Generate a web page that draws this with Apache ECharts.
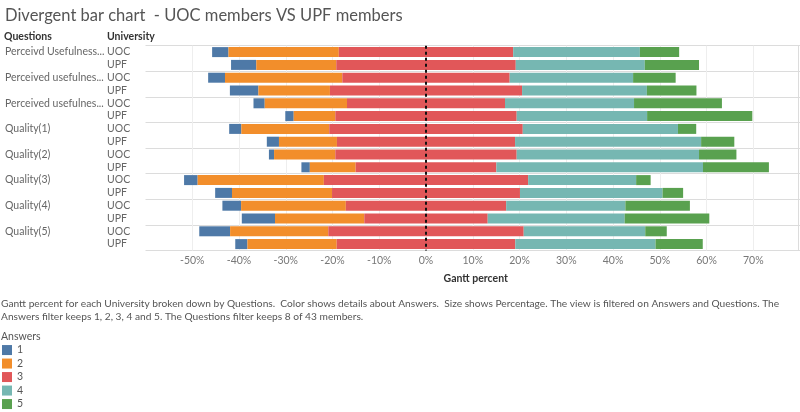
<!DOCTYPE html>
<html><head><meta charset="utf-8">
<script src="https://cdn.jsdelivr.net/npm/echarts@6/dist/echarts.min.js"></script>
<style>html,body{margin:0;padding:0;background:#fff}#c{width:800px;height:412px}</style>
</head><body><div id="c"></div>
<script>
const questions = ['Perceivd Usefulness...', 'Perceived usefulnes...', 'Perceived usefulnes...', 'Quality(1)', 'Quality(2)', 'Quality(3)', 'Quality(4)', 'Quality(5)'];
const universities = ['UOC', 'UPF'];
const answers = ['1', '2', '3', '4', '5'];
// share (%) of each answer, rows ordered question by question, UOC then UPF
const answer1 = [3.5, 5.4, 3.6, 6.1, 2.4, 1.8, 2.6, 2.6, 1.1, 1.8, 2.9, 3.6, 4.0, 7.1, 6.6, 2.6];
const answer2 = [23.6, 17.1, 25.1, 15.3, 17.6, 8.9, 18.8, 12.4, 13.1, 9.8, 27.0, 21.4, 22.4, 19.1, 21.0, 19.1];
const answer3 = [37.3, 38.4, 35.8, 41.1, 33.8, 38.8, 41.4, 38.1, 38.8, 30.1, 43.7, 40.2, 34.3, 26.4, 41.8, 38.2];
const answer4 = [27.1, 27.6, 26.4, 26.7, 27.6, 27.9, 33.2, 39.8, 39.0, 44.2, 23.1, 30.5, 25.5, 29.3, 26.0, 30.0];
const answer5 = [8.4, 11.6, 9.1, 10.6, 18.8, 22.5, 3.9, 7.1, 8.0, 14.1, 3.1, 4.4, 13.8, 18.1, 4.6, 10.1];
const xTicks = [-50, -40, -30, -20, -10, 0, 10, 20, 30, 40, 50, 60, 70];

const colors = ['#4e79a7', '#f28e2b', '#e15759', '#76b7b2', '#59a14f'];
const FONT = 'Lato, "Liberation Sans", Arial, sans-serif';
const rows = [];
questions.forEach((q, qi) => universities.forEach(u => rows.push(qi + '|' + u)));
const offset = answer1.map((v, i) => -(v + answer2[i] + answer3[i] / 2));
const values = [answer1, answer2, answer3, answer4, answer5];

const series = [{
  name: 'offset', type: 'bar', stack: 'g', stackStrategy: 'all', barWidth: 10,
  itemStyle: { color: 'rgba(0,0,0,0)' }, silent: true, data: offset,
  markLine: {
    silent: true, symbol: 'none', z: 1, label: { show: false },
    lineStyle: { color: '#eeeeee', type: 'solid', width: 1 },
    data: xTicks.map(v => ({ xAxis: v }))
  }
}];
answers.forEach((a, k) => {
  const s = {
    name: a, type: 'bar', stack: 'g', stackStrategy: 'all', barWidth: 10,
    itemStyle: { color: colors[k] }, data: values[k]
  };
  if (k === 4) {
    s.markLine = {
      silent: true, symbol: 'none', z: 10, label: { show: false },
      lineStyle: { color: '#111', type: [3, 3], width: 2 },
      data: [{ xAxis: 0 }]
    };
  }
  series.push(s);
});

const chart = echarts.init(document.getElementById('c'), null, { renderer: 'canvas' });
chart.setOption({
  animation: false,
  color: colors,
  textStyle: { fontFamily: FONT },
  title: [
    { text: 'Divergent bar chart  - UOC members VS UPF members', left: 5, top: 7.5, padding: 0,
      textStyle: { fontFamily: FONT, fontSize: 16.5, fontWeight: 'normal', color: '#555' } },
    { text: 'Questions', left: 4, top: 31.5, padding: 0, textStyle: { fontFamily: FONT, fontSize: 10.5, fontWeight: 'bold', color: '#333' } },
    { text: 'University', left: 107, top: 31.5, padding: 0, textStyle: { fontFamily: FONT, fontSize: 10.5, fontWeight: 'bold', color: '#333' } },
    { text: 'Gantt percent for each University broken down by Questions.  Color shows details about Answers.  Size shows Percentage. The view is filtered on Answers and Questions. The\nAnswers filter keeps 1, 2, 3, 4 and 5. The Questions filter keeps 8 of 43 members.',
      left: 1, top: 296.6, padding: 0, textStyle: { fontFamily: FONT, fontSize: 10.2, fontWeight: 'normal', color: '#555', lineHeight: 13.4 } },
    { text: 'Answers', left: 1, top: 331, padding: 0, textStyle: { fontFamily: FONT, fontSize: 10.5, fontWeight: 'normal', color: '#555' } }
  ],
  legend: {
    orient: 'vertical', left: 2, top: 343.3, itemWidth: 10, itemHeight: 10, itemGap: 0,
    icon: 'rect', data: answers, padding: 0, height: 80,
    textStyle: { fontFamily: FONT, fontSize: 10.5, color: '#555', lineHeight: 13.5 }
  },
  grid: { left: 145.5, right: 0, top: 45.7, bottom: 161.5, containLabel: false },
  xAxis: {
    type: 'value', min: -60, max: 80, interval: 10,
    axisLine: { show: false }, axisTick: { show: false }, splitLine: { show: false },
    axisLabel: { formatter: v => v + '%', showMinLabel: false, showMaxLabel: false,
      color: '#777', fontSize: 10.5, margin: 5, fontFamily: FONT },
    name: 'Gantt percent', nameLocation: 'middle', nameGap: 23,
    nameTextStyle: { fontFamily: FONT, fontSize: 10.5, fontWeight: 'bold', color: '#333', padding: [0, 0, 0, 6] }
  },
  yAxis: [{
    type: 'category', inverse: true, data: rows, offset: -8.5,
    axisLine: { show: true, lineStyle: { color: '#d6d6d6' } },
    axisTick: { show: true, length: 154, interval: (i) => i % 2 === 0, lineStyle: { color: '#dcdcdc' } },
    splitLine: { show: true, interval: (i) => i % 2 === 0, lineStyle: { color: '#dcdcdc' } },
    axisLabel: {
      interval: 0, align: 'left', margin: 149,
      formatter: (v, i) => {
        const qi = Math.floor(i / 2), ui = i % 2;
        return (ui === 0 ? '{q|' + questions[qi] + '}' : '{q| }') + '{u|' + universities[ui] + '}';
      },
      rich: {
        q: { width: 102, fontFamily: FONT, fontSize: 10.5, color: '#666' },
        u: { fontFamily: FONT, fontSize: 10.5, color: '#666' }
      }
    }
  }, {
    type: 'category', inverse: true, data: rows, position: 'right', offset: -2,
    axisLine: { show: true, lineStyle: { color: '#dcdcdc' } },
    axisTick: { show: false }, axisLabel: { show: false }, splitLine: { show: false }
  }],
  series: series
});
</script>
</body></html>
